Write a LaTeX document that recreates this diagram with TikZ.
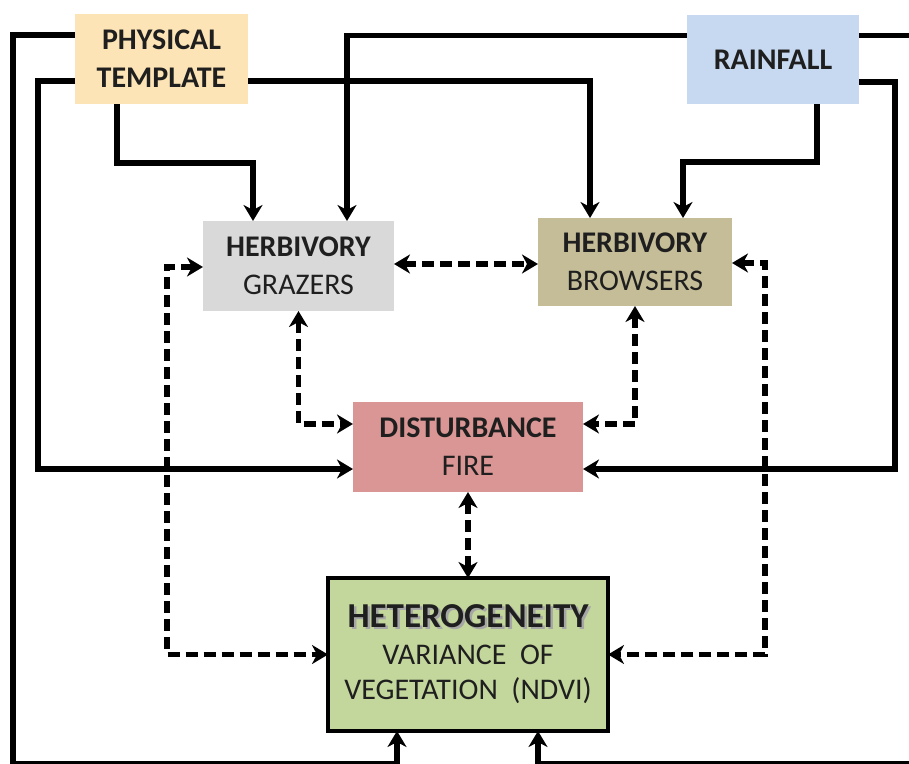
\documentclass[tikz,border=0pt]{standalone}
\usepackage{fontspec}
\setmainfont{Carlito}
\usetikzlibrary{arrows.meta}
\definecolor{ptfill}{RGB}{252,228,182}
\definecolor{rafill}{RGB}{198,217,240}
\definecolor{grfill}{RGB}{217,217,217}
\definecolor{brfill}{RGB}{196,189,151}
\definecolor{difill}{RGB}{217,150,148}
\definecolor{hefill}{RGB}{195,214,155}
\newcommand{\hshadow}[1]{\makebox[0pt][l]{\raisebox{-2pt}{\hspace{2.5pt}\textcolor{black!35}{#1}}}#1}
\begin{document}
\begin{tikzpicture}[x=1pt,y=-1pt,
    box/.style={inner sep=0pt,outer sep=0pt,align=center,text=black!88,font=\fontsize{30}{38}\selectfont},
    flow/.style={line width=5.5pt,-{Stealth[length=16pt,width=19pt,inset=5pt]}},
    dflow/.style={line width=5.5pt,dash pattern=on 12pt off 6pt,{Stealth[length=16pt,width=19pt,inset=5pt]}-{Stealth[length=16pt,width=19pt,inset=5pt]}}]
    \path[use as bounding box,clip] (0,0) rectangle (909,763);
    \node[box,fill=ptfill,minimum width=173pt,minimum height=90pt] (pt) at (161.5,59) {\textbf{PHYSICAL}\\\textbf{TEMPLATE}};
    \node[box,fill=rafill,minimum width=172pt,minimum height=89pt] (ra) at (773,59.5) {\textbf{RAINFALL}};
    \node[box,fill=grfill,minimum width=191pt,minimum height=90pt] (gr) at (298.5,266) {\textbf{HERBIVORY}\\GRAZERS};
    \node[box,fill=brfill,minimum width=194pt,minimum height=88pt] (br) at (635,262) {\textbf{HERBIVORY}\\BROWSERS};
    \node[box,fill=difill,minimum width=230pt,minimum height=90pt] (di) at (468,447) {\textbf{DISTURBANCE}\\FIRE};
    \node[box,fill=hefill,draw=black,line width=4.5pt,minimum width=280pt,minimum height=153pt] (he) at (468,654.5)
        {{\fontsize{35}{40}\selectfont\bfseries\hshadow{HETEROGENEITY}}\\[-1pt]VARIANCE~~OF\\[-3pt]VEGETATION~~(NDVI)};
    \coordinate (bl) at (13,764);
    \coordinate (br2) at (925,764);
    \coordinate (c1) at (38,469);
    \coordinate (c3) at (895,469);
    \coordinate (dl) at (167,654.5);
    \coordinate (dr) at (765,654.5);
    \draw[flow] ([yshift=24pt]pt.west) -| (bl) -| ([xshift=-71pt]he.south);
    \draw[flow] ([yshift=-22pt]pt.west) -| (c1) -- ([yshift=-22pt]di.west);
    \draw[flow] ([yshift=-22pt]pt.east) -| ([xshift=-45pt]br.north);
    \draw[flow] ([xshift=-44.5pt]pt.south) -- ++(0,59) -| ([xshift=-45.5pt]gr.north);
    \draw[flow] ([yshift=24pt]ra.west) -| ([xshift=48.5pt]gr.north);
    \draw[flow] ([yshift=24pt]ra.east) -| (br2) -| ([xshift=70pt]he.south);
    \draw[flow] ([yshift=-22.5pt]ra.east) -| (c3) -- ([yshift=-22pt]di.east);
    \draw[flow] ([xshift=44pt]ra.south) -- ++(0,58) -| ([xshift=48pt]br.north);
    \draw[dflow] (gr.east |- 0,264) -- (br.west |- 0,264);
    \draw[dflow] ([yshift=-1pt]gr.west) -| (dl) -- (he.west);
    \draw[dflow] ([yshift=-1pt]br.east) -| (dr) -- (he.east);
    \draw[dflow] (gr.south) |- ([yshift=23pt]di.west);
    \draw[dflow] (br.south) |- ([yshift=23pt]di.east);
    \draw[dflow] (di.south) -- (he.north);
\end{tikzpicture}
\end{document}
